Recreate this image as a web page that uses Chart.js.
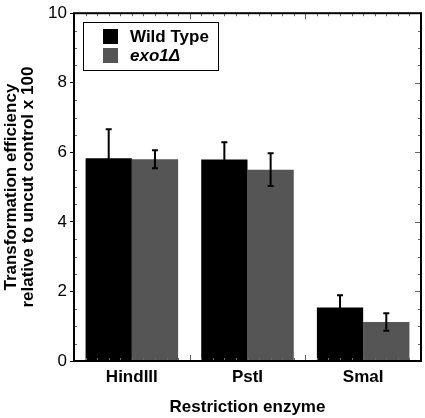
<!DOCTYPE html>
<html><head><meta charset="utf-8">
<script src="https://cdn.jsdelivr.net/npm/chart.js@4"></script>
<style>html,body{margin:0;padding:0;background:#fff}#wrap{width:425px;height:418px}</style>
</head><body><div id="wrap"><canvas id="c" width="425" height="418"></canvas></div>
<script>
const categories = ["HindIII", "PstI", "SmaI"];
const seriesNames = ["Wild Type", "exo1Δ"];
const wildType = [5.83, 5.79, 1.54];
const wildTypeErr = [0.83, 0.50, 0.35];
const exo1 = [5.80, 5.50, 1.12];
const exo1Err = [0.26, 0.47, 0.25];
const yTicks = [0, 2, 4, 6, 8, 10];
const FONT = "'Liberation Sans', Arial, Helvetica, sans-serif";

const errorBars = {
  id: 'errorBars',
  afterDatasetsDraw(chart) {
    const ctx = chart.ctx, y = chart.scales.y;
    chart.data.datasets.forEach((ds, di) => {
      const meta = chart.getDatasetMeta(di);
      meta.data.forEach((bar, i) => {
        const v = ds.data[i], e = ds.errors[i];
        const yt = y.getPixelForValue(v + e), yb = y.getPixelForValue(v - e);
        ctx.save();
        ctx.strokeStyle = '#000'; ctx.lineWidth = 2;
        ctx.beginPath();
        ctx.moveTo(bar.x, yt); ctx.lineTo(bar.x, yb);
        ctx.moveTo(bar.x - 3, yt); ctx.lineTo(bar.x + 3, yt);
        ctx.moveTo(bar.x - 3, yb); ctx.lineTo(bar.x + 3, yb);
        ctx.stroke();
        ctx.restore();
      });
    });
  }
};

const frameTicks = {
  id: 'frameTicks',
  afterDatasetsDraw(chart) {
    const ctx = chart.ctx, a = chart.chartArea, x = chart.scales.x, y = chart.scales.y;
    ctx.save();
    ctx.strokeStyle = '#666'; ctx.lineWidth = 1;
    ctx.beginPath();
    for (let k = 0; k <= categories.length * 10; k++) {
      const px = Math.round(x.getPixelForValue(-0.5 + k / 10)) + 0.5;
      const len = (k % 10 === 0) ? 6 : 3;
      ctx.moveTo(px, a.top); ctx.lineTo(px, a.top + len);
      ctx.moveTo(px, a.bottom); ctx.lineTo(px, a.bottom - len);
    }
    for (let v = 0; v <= 10.001; v += 0.5) {
      const py = Math.round(y.getPixelForValue(v)) + 0.5;
      const major = Math.abs(v % 2) < 1e-6;
      ctx.moveTo(a.left, py); ctx.lineTo(a.left + (major ? 0 : 3), py);
      ctx.moveTo(a.right, py); ctx.lineTo(a.right - (major ? 6 : 3), py);
    }
    ctx.stroke();
    ctx.strokeStyle = '#000'; ctx.lineWidth = 2;
    ctx.strokeRect(a.left, a.top, a.right - a.left, a.bottom - a.top);
    const lx = 83, ly = 22, lw = 135, lh = 48;
    ctx.fillStyle = '#fff';
    ctx.fillRect(lx, ly, lw, lh);
    ctx.strokeStyle = '#000'; ctx.lineWidth = 1;
    ctx.strokeRect(lx + 0.5, ly + 0.5, lw, lh);
    const cols = chart.data.datasets.map(d => d.backgroundColor);
    ctx.textBaseline = 'middle'; ctx.textAlign = 'left';
    seriesNames.forEach((n, i) => {
      const ry = 29 + i * 19;
      ctx.fillStyle = cols[i];
      ctx.fillRect(103, ry, 15, 15);
      ctx.fillStyle = '#000';
      ctx.font = (i === 1 ? 'italic ' : '') + 'bold 17px ' + FONT;
      ctx.fillText(n, 130, ry + 8);
    });
    ctx.restore();
  }
};

new Chart(document.getElementById('c'), {
  type: 'bar',
  data: {
    labels: categories,
    datasets: [
      { label: seriesNames[0], data: wildType, errors: wildTypeErr, backgroundColor: '#000000',
        barPercentage: 1.0, categoryPercentage: 0.8 },
      { label: seriesNames[1], data: exo1, errors: exo1Err, backgroundColor: '#555555',
        barPercentage: 1.0, categoryPercentage: 0.8 }
    ]
  },
  plugins: [errorBars, frameTicks],
  options: {
    responsive: false,
    animation: false,
    layout: { padding: { top: 12, right: 4, left: 0, bottom: 0 } },
    plugins: { legend: { display: false }, tooltip: { enabled: false } },
    scales: {
      x: {
        grid: { display: false, drawTicks: false },
        border: { display: false },
        ticks: { color: '#000', font: { family: FONT, size: 17, weight: 'bold' }, padding: 6 },
        title: { display: true, text: 'Restriction enzyme', color: '#000',
                 font: { family: FONT, size: 17, weight: 'bold' }, padding: { top: 4, bottom: 0 } },
        afterFit(s) { s.height = 57; }
      },
      y: {
        min: 0, max: 10,
        afterBuildTicks(s) { s.ticks = yTicks.map(v => ({ value: v })); },
        grid: { drawOnChartArea: false, tickLength: 4, color: '#000', lineWidth: 1 },
        border: { display: false },
        ticks: { color: '#000', font: { family: FONT, size: 17 }, padding: 3 },
        title: { display: true, text: ['Transformation efficiency', 'relative to uncut control x 100'],
                 color: '#000', font: { family: FONT, size: 17, weight: 'bold', lineHeight: 1.0 }, padding: { top: 3, bottom: 0 } },
        afterFit(s) { s.width = 74; }
      }
    }
  }
});
</script></body></html>
